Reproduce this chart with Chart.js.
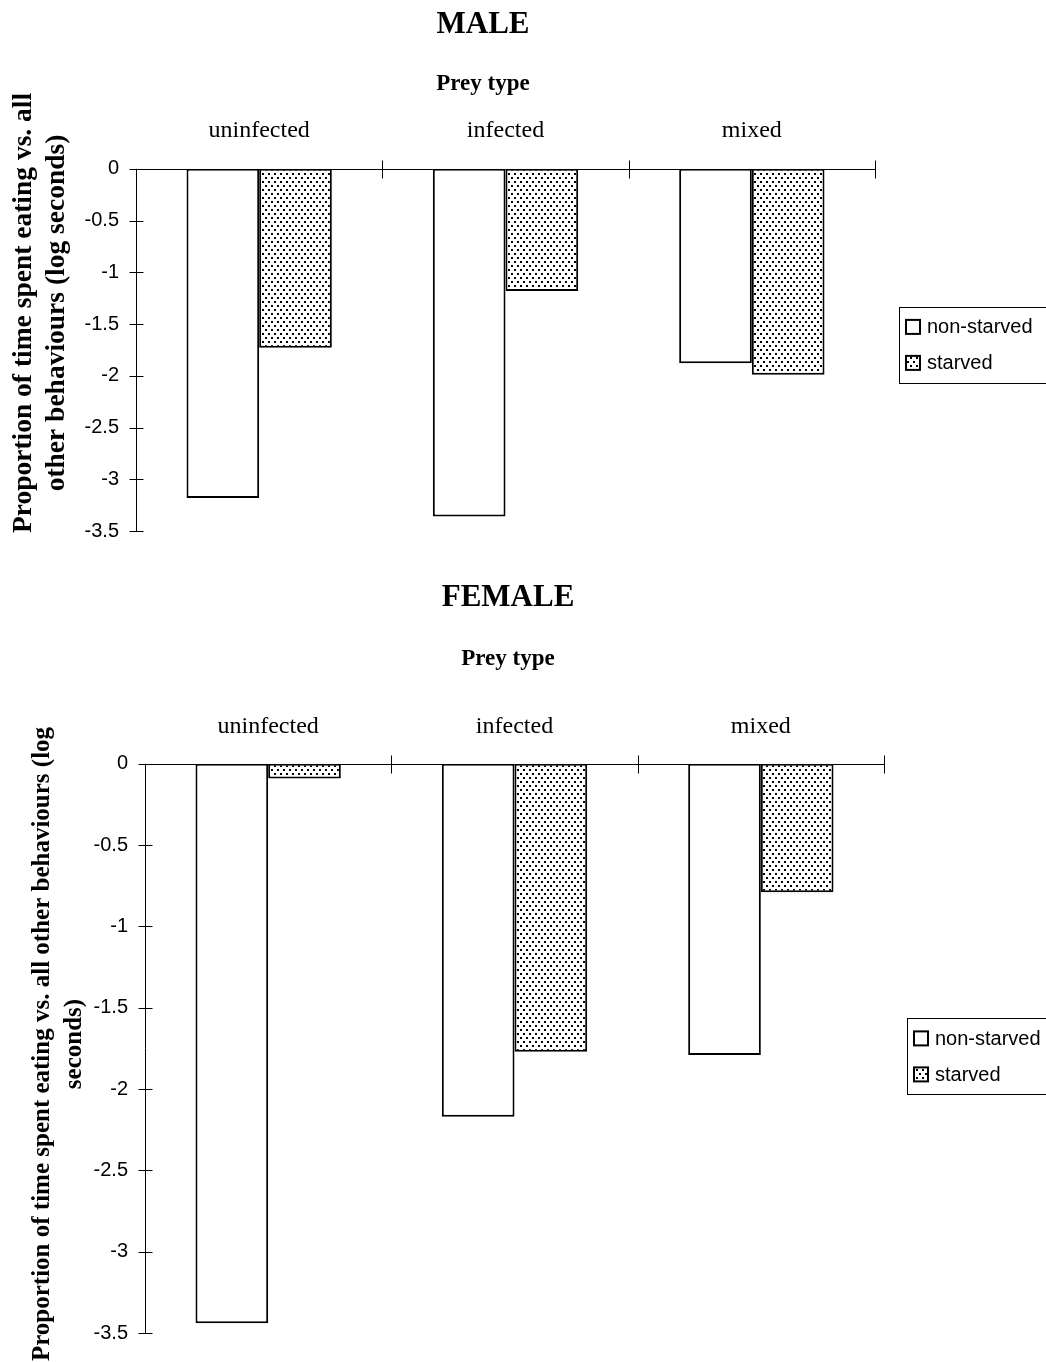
<!DOCTYPE html>
<html>
<head>
<meta charset="utf-8">
<script src="https://cdn.jsdelivr.net/npm/chart.js@4.4.1/dist/chart.umd.min.js"></script>
<style>
  html, body { margin: 0; padding: 0; background: #fff; }
  .panel { position: absolute; left: 0; width: 1046px; }
  #male { top: 0; height: 560px; }
  #female { top: 560px; height: 802px; }
</style>
</head>
<body>
<div class="panel" id="male"><canvas id="maleChart"></canvas></div>
<div class="panel" id="female"><canvas id="femaleChart"></canvas></div>
<script>
const preyTypes = ['uninfected', 'infected', 'mixed'];
const seriesNames = ['non-starved', 'starved'];
const maleNonStarved = [-3.18, -3.36, -1.88];
const maleStarved = [-1.73, -1.18, -1.99];
const femaleNonStarved = [-3.44, -2.17, -1.79];
const femaleStarved = [-0.09, -1.77, -0.79];
const yTicks = [0, -0.5, -1, -1.5, -2, -2.5, -3, -3.5];

const serif = "'Liberation Serif', 'Times New Roman', serif";
const sans = "'Liberation Sans', Arial, sans-serif";

function dotPattern(ctx) {
  const tile = document.createElement('canvas');
  tile.width = 6; tile.height = 8;
  const g = tile.getContext('2d');
  g.fillStyle = '#fff';
  g.fillRect(0, 0, 6, 8);
  g.fillStyle = '#000';
  g.fillRect(1, 1, 2, 2);
  g.fillRect(4, 5, 2, 2);
  return ctx.createPattern(tile, 'repeat');
}

// axis lines with tick marks crossing them, like the original
const axisMarks = {
  id: 'axisMarks',
  afterDatasetsDraw(chart) {
    const { ctx, chartArea, scales } = chart;
    const x = scales.x, y = scales.y;
    const y0 = Math.round(y.getPixelForValue(0)) + 0.5;
    const left = Math.round(chartArea.left) + 0.5;
    ctx.save();
    ctx.strokeStyle = '#000';
    ctx.lineWidth = 1;
    ctx.beginPath();
    ctx.moveTo(left, chartArea.top);
    ctx.lineTo(left, chartArea.bottom);
    ctx.moveTo(chartArea.left, y0);
    ctx.lineTo(chartArea.right, y0);
    y.ticks.forEach(t => {
      const py = Math.round(y.getPixelForValue(t.value)) + 0.5;
      ctx.moveTo(left - 7, py);
      ctx.lineTo(left + 7, py);
    });
    for (let i = 1; i <= x.ticks.length; i++) {
      const px = Math.round(x.getPixelForValue(i - 0.5)) + 0.5;
      ctx.moveTo(px, y0 - 9);
      ctx.lineTo(px, y0 + 9);
    }
    ctx.stroke();
    ctx.restore();
  }
};

function boxLegend(gap, shift) {
  return {
    id: 'boxLegend',
    afterDraw(chart) {
      const { ctx, chartArea } = chart;
      const left = chartArea.right + gap;
      const top = (chartArea.top + chartArea.bottom) / 2 + shift - 38;
      ctx.save();
      ctx.strokeStyle = '#000';
      ctx.lineWidth = 1;
      ctx.strokeRect(Math.round(left) + 0.5, Math.round(top) + 0.5, chart.width, 76);
      ctx.font = '20px ' + sans;
      ctx.textBaseline = 'middle';
      chart.data.datasets.forEach((ds, i) => {
        const cy = top + 20 + i * 36;
        ctx.fillStyle = ds.backgroundColor;
        ctx.fillRect(left + 7, cy - 7, 14, 14);
        ctx.lineWidth = 2;
        ctx.strokeRect(left + 7, cy - 7, 14, 14);
        ctx.fillStyle = '#000';
        ctx.fillText(ds.label, left + 28, cy + 1);
      });
      ctx.restore();
    }
  };
}

function sideTitle(lines, xs, cy, size) {
  return {
    id: 'sideTitle',
    afterDraw(chart) {
      const ctx = chart.ctx;
      ctx.save();
      ctx.fillStyle = '#000';
      ctx.font = 'bold ' + size + 'px ' + serif;
      ctx.textAlign = 'center';
      ctx.textBaseline = 'alphabetic';
      lines.forEach((t, i) => {
        ctx.save();
        ctx.translate(xs[i], cy);
        ctx.rotate(-Math.PI / 2);
        ctx.fillText(t, 0, 0);
        ctx.restore();
      });
      ctx.restore();
    }
  };
}

function makeChart(id, cfg) {
  const canvas = document.getElementById(id);
  const pattern = dotPattern(canvas.getContext('2d'));
  const bar = { borderColor: '#000', borderWidth: 2, borderSkipped: false, categoryPercentage: 0.59, barPercentage: 1 };
  return new Chart(canvas, {
    type: 'bar',
    data: {
      labels: preyTypes,
      datasets: [
        Object.assign({ label: seriesNames[0], data: cfg.nonStarved, backgroundColor: '#fff' }, bar),
        Object.assign({ label: seriesNames[1], data: cfg.starved, backgroundColor: pattern }, bar)
      ]
    },
    options: {
      responsive: true,
      maintainAspectRatio: false,
      animation: false,
      layout: { padding: { left: 0, right: cfg.padRight, top: 0, bottom: cfg.padBottom } },
      plugins: {
        legend: { display: false },
        tooltip: { enabled: false },
        title: {
          display: true, text: cfg.title, color: '#000',
          font: { family: serif, size: 31, weight: 'bold' },
          padding: { top: cfg.titleTop, bottom: cfg.titleBottom }
        },
        subtitle: {
          display: true, text: 'Prey type', color: '#000',
          font: { family: serif, size: 23, weight: 'bold' },
          padding: { top: 0, bottom: 0 }
        }
      },
      scales: {
        x: {
          position: 'top',
          offset: true,
          grid: { display: false, drawTicks: false },
          border: { display: false },
          ticks: { color: '#000', font: { family: serif, size: 24 }, padding: cfg.xPad },
          afterFit(s) { s.height = cfg.xHeight; }
        },
        y: {
          min: -3.5,
          max: 0,
          grid: { display: false, drawTicks: false },
          border: { display: false },
          afterBuildTicks(s) { s.ticks = yTicks.map(v => ({ value: v })); },
          ticks: { color: '#000', font: { family: sans, size: 20 }, padding: 17, callback: v => String(v) },
          afterFit(s) { s.width = cfg.yWidth; }
        },
        // empty right-hand column that keeps room for the legend beside the plot only
        side: {
          type: 'linear',
          position: 'right',
          grid: { display: false, drawTicks: false },
          border: { display: false },
          ticks: { display: false },
          afterFit(s) { s.width = cfg.sideWidth; }
        }
      }
    },
    plugins: [axisMarks, boxLegend(cfg.legendGap, cfg.legendShift), sideTitle(cfg.yTitle, cfg.yTitleX, cfg.yTitleY, cfg.yTitleSize)]
  });
}

makeChart('maleChart', {
  title: 'MALE',
  nonStarved: maleNonStarved,
  starved: maleStarved,
  titleTop: 6, titleBottom: 27,
  xHeight: 71, xPad: 24,
  yWidth: 136, padRight: 80, sideWidth: 91, padBottom: 23,
  legendGap: 24, legendShift: -5,
  yTitle: ['Proportion of time spent eating vs. all', 'other behaviours (log seconds)'],
  yTitleX: [31, 64], yTitleY: 313, yTitleSize: 27.5
});

makeChart('femaleChart', {
  title: 'FEMALE',
  nonStarved: femaleNonStarved,
  starved: femaleStarved,
  titleTop: 19, titleBottom: 29,
  xHeight: 91, xPad: 23,
  yWidth: 145, padRight: 30, sideWidth: 132, padBottom: 8,
  legendGap: 23, legendShift: 8,
  yTitle: ['Proportion of time spent eating vs. all other behaviours (log', 'seconds)'],
  yTitleX: [49, 81], yTitleY: 484, yTitleSize: 25
});
</script>
</body>
</html>
